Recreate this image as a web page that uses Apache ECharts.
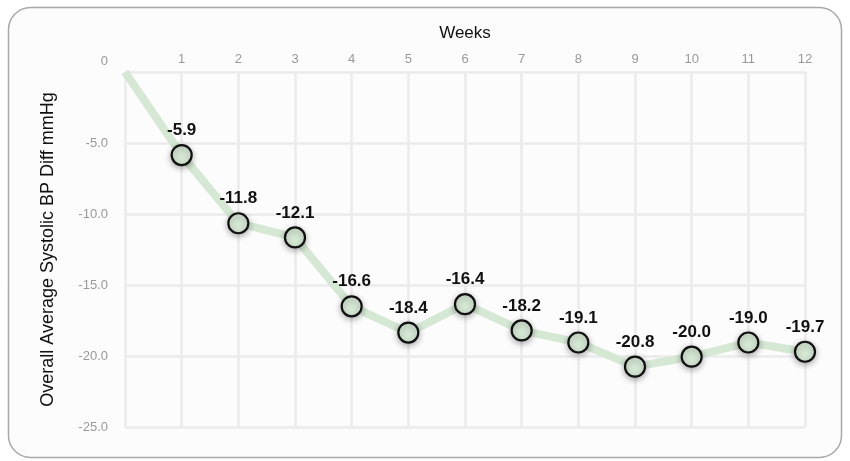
<!DOCTYPE html>
<html><head><meta charset="utf-8">
<script src="https://cdn.jsdelivr.net/npm/echarts@6/dist/echarts.min.js"></script>
<style>html,body{margin:0;padding:0;background:#fff}#c{width:850px;height:461px}</style>
</head><body><div id="c"></div>
<script>
const weeks = [0,1,2,3,4,5,6,7,8,9,10,11,12];
const values = [0,-5.85,-10.65,-11.65,-16.5,-18.35,-16.35,-18.2,-19.05,-20.75,-20.05,-19.05,-19.7];
const labels = ['', '-5.9','-11.8','-12.1','-16.6','-18.4','-16.4','-18.2','-19.1','-20.8','-20.0','-19.0','-19.7'];
const yTicks = [0,-5,-10,-15,-20,-25];
const FONT = 'Liberation Sans';

const chart = echarts.init(document.getElementById('c'));
const data = weeks.map((w,i)=>{
  const item = {value:[w, values[i]]};
  if (i===0) { item.symbol='none'; item.label={show:false}; }
  return item;
});
chart.setOption({
  animation:false,
  backgroundColor:'#fff',
  graphic:[{type:'rect', z:-10, silent:true,
    shape:{x:8.5,y:7.5,width:833,height:450,r:22},
    style:{fill:'#fcfcfc', stroke:'#a8a8a8', lineWidth:1.5}}],
  grid:{left:125,right:45,top:72,bottom:34},
  xAxis:{type:'value', position:'top', min:0, max:12, interval:1,
    name:'Weeks', nameLocation:'middle', nameGap:30,
    nameTextStyle:{color:'#111', fontSize:17, fontFamily:FONT},
    axisLine:{show:false}, axisTick:{show:false},
    axisLabel:{color:'#999', fontSize:13, fontFamily:FONT, margin:6,
      formatter:v=> v===0 ? '' : String(v)},
    splitLine:{show:true, lineStyle:{color:'#ebebeb', width:2.5}}},
  yAxis:{type:'value', min:-25, max:0, interval:5,
    name:'Overall Average Systolic BP Diff mmHg', nameLocation:'middle', nameGap:68,
    nameTextStyle:{color:'#111', fontSize:18, fontFamily:FONT},
    axisLine:{show:false}, axisTick:{show:false},
    axisLabel:{color:'#999', fontSize:13, fontFamily:FONT, margin:17,
      formatter:v=> v===0 ? '{z|0}' : v.toFixed(1),
      rich:{z:{color:'#999', fontSize:13, fontFamily:FONT, padding:[0,0,22,0]}}},
    splitLine:{show:true, lineStyle:{color:'#ebebeb', width:2.5}}},
  series:[{type:'line', data:data,
    lineStyle:{color:'#d5e8d4', width:8},
    symbol:'circle', symbolSize:20,
    itemStyle:{color:'#d5e8d4', borderColor:'#111', borderWidth:2.2,
      shadowBlur:6, shadowColor:'rgba(0,0,0,0.3)', shadowOffsetY:2},
    label:{show:true, position:'top', distance:5, color:'#111', fontWeight:'bold',
      fontSize:17, fontFamily:FONT, formatter:p=>labels[p.dataIndex]}
  }]
});
</script></body></html>
